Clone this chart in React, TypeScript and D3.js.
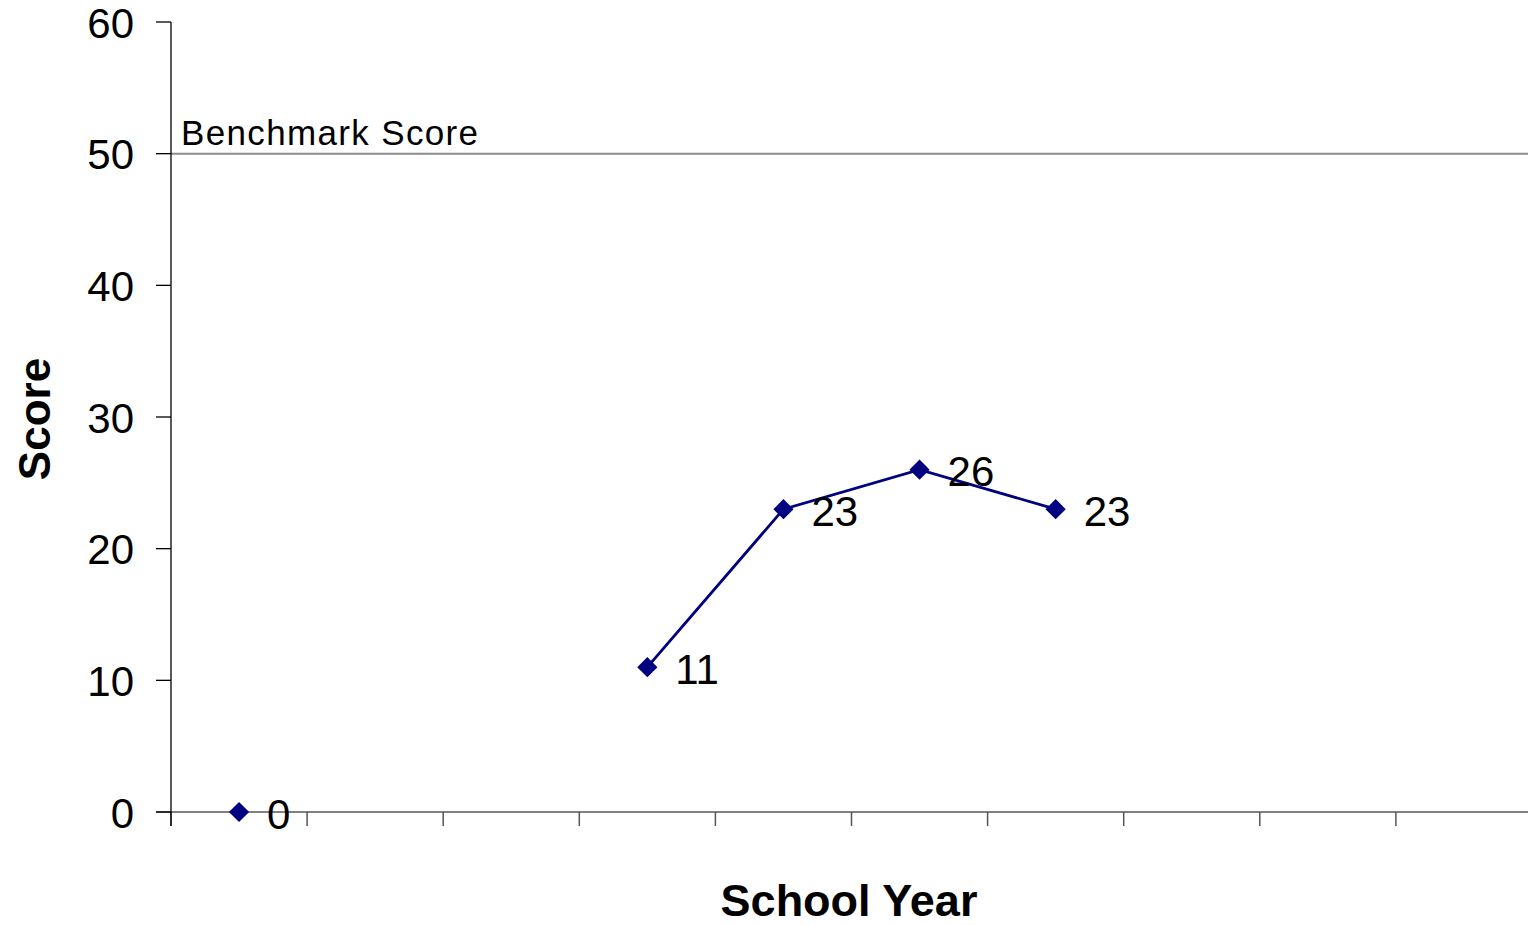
import React from "react";
import * as d3 from "d3";

const categories: string[] = ["Y1", "Y2", "Y3", "Y4", "Y5", "Y6", "Y7", "Y8", "Y9", "Y10"];
const scores: (number | null)[] = [0, null, null, 11, 23, 26, 23, null, null, null];
const yTicks: number[] = [0, 10, 20, 30, 40, 50, 60];
const benchmarkValue = 50;
const benchmarkLabel = "Benchmark Score";
const xTitle = "School Year";
const yTitle = "Score";

const W = 1528;
const H = 925;
const FONT = "'Liberation Sans', Arial, sans-serif";

export default function App() {
  const x = d3.scaleBand<string>().domain(categories).range([171, 1532]).padding(0);
  const y = d3.scaleLinear().domain([0, 60]).range([812, 22]);
  const cx = (i: number) => (x(categories[i]) as number) + x.bandwidth() / 2;

  const pts = scores.map((v, i) => ({ v, i }));
  const line = d3
    .line<{ v: number | null; i: number }>()
    .defined((d) => d.v !== null)
    .x((d) => cx(d.i))
    .y((d) => y(d.v as number));

  const diamond = d3.symbol().type(d3.symbolDiamond2).size(260)();

  return (
    <svg
      width={W}
      height={H}
      style={{ position: "absolute", left: 0, top: 0, background: "#fff" }}
      fontFamily={FONT}
    >
      {/* benchmark line */}
      <line x1={171} x2={W} y1={y(benchmarkValue)} y2={y(benchmarkValue)} stroke="#8c8c8c" strokeWidth={2} />
      <text x={181} y={y(benchmarkValue) - 9} fontSize={35} fill="#000" textLength={297} lengthAdjust="spacing">
        {benchmarkLabel}
      </text>

      {/* x axis */}
      <line x1={156} x2={W} y1={y(0)} y2={y(0)} stroke="#808080" strokeWidth={2} />
      {categories.map((c) => (
        <line key={c} x1={x(c) as number} x2={x(c) as number} y1={y(0)} y2={y(0) + 14} stroke="#555" strokeWidth={1.5} />
      ))}

      {/* y axis */}
      <line x1={171} x2={171} y1={y(60)} y2={y(0) + 14} stroke="#000" strokeWidth={1.3} />
      {yTicks.map((t) => (
        <g key={t}>
          <line x1={156} x2={171} y1={y(t)} y2={y(t)} stroke="#000" strokeWidth={1.3} />
          <text x={134} y={y(t) + 1} textAnchor="end" dominantBaseline="central" fontSize={42} fill="#000">
            {t}
          </text>
        </g>
      ))}

      {/* series */}
      <path d={line(pts) || ""} fill="none" stroke="#000080" strokeWidth={2.8} />
      {pts
        .filter((d) => d.v !== null)
        .map((d) => (
          <g key={d.i}>
            <path d={diamond || ""} transform={`translate(${cx(d.i)},${y(d.v as number)})`} fill="#000080" />
            <text
              x={cx(d.i) + 28}
              y={y(d.v as number) + 2}
              dominantBaseline="central"
              fontSize={42}
              fill="#000"
            >
              {d.v}
            </text>
          </g>
        ))}

      {/* titles */}
      <text x={849} y={916} textAnchor="middle" fontSize={45} fontWeight="bold" fill="#000">
        {xTitle}
      </text>
      <text
        transform={`translate(50,419) rotate(-90)`}
        textAnchor="middle"
        fontSize={44}
        fontWeight="bold"
        fill="#000"
      >
        {yTitle}
      </text>
    </svg>
  );
}
